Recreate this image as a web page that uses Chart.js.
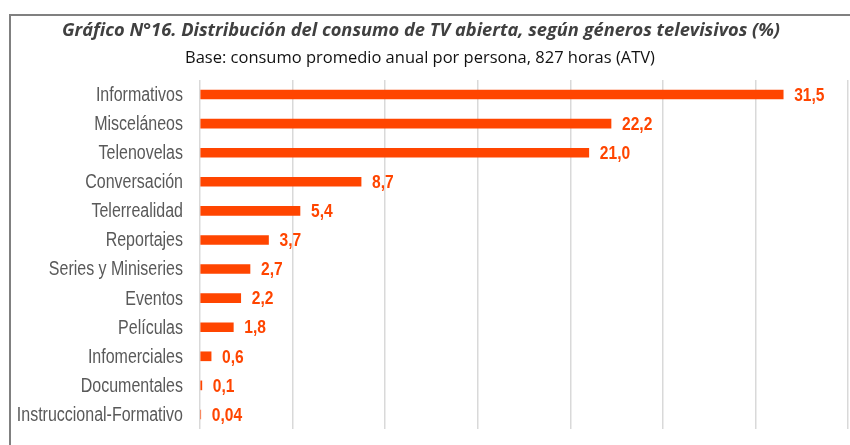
<!DOCTYPE html>
<html>
<head>
<meta charset="utf-8">
<script src="https://cdn.jsdelivr.net/npm/chart.js@4/dist/chart.umd.min.js"></script>
<style>
  html, body { margin: 0; padding: 0; background: #fff; }
  #wrap { width: 850px; height: 445px; position: relative; }
</style>
</head>
<body>
<div id="wrap"><canvas id="generosChart"></canvas></div>
<script>
// datos del gráfico
const categorias = ['Informativos', 'Misceláneos', 'Telenovelas', 'Conversación', 'Telerrealidad',
  'Reportajes', 'Series y Miniseries', 'Eventos', 'Películas', 'Infomerciales', 'Documentales',
  'Instruccional-Formativo'];
const porcentajes = [31.5, 22.2, 21.0, 8.7, 5.4, 3.7, 2.7, 2.2, 1.8, 0.6, 0.1, 0.04];
const ejeMin = 0;
const ejeMax = 35;
const ejePaso = 5;

const titulo = 'Gráfico N°16. Distribución del consumo de TV abierta, según géneros televisivos (%)';
const subtitulo = 'Base: consumo promedio anual por persona, 827 horas (ATV)';

const naranja = '#FF4500';
const fuenteEtiquetas = '"Liberation Sans", Arial, sans-serif';
const estrechez = 0.82; // simula Arial Narrow

function formatoValor(v) {
  const txt = v < 0.1 ? v.toFixed(2) : v.toFixed(1);
  return txt.replace('.', ',');
}

// texto ajustado a un ancho dado
function textoAjustado(ctx, txt, estilo, familia, ancho, cx, cy, color) {
  let size = 20;
  ctx.font = estilo + ' ' + size + 'px ' + familia;
  const w = ctx.measureText(txt).width;
  size = size * ancho / w;
  ctx.font = estilo + ' ' + size.toFixed(2) + 'px ' + familia;
  ctx.fillStyle = color;
  ctx.textAlign = 'center';
  ctx.textBaseline = 'middle';
  ctx.fillText(txt, cx, cy);
}

// texto estrecho (escala horizontal)
function textoEstrecho(ctx, txt, x, y, align) {
  ctx.save();
  ctx.scale(estrechez, 1);
  ctx.textAlign = align;
  ctx.textBaseline = 'middle';
  ctx.fillText(txt, x / estrechez, y);
  ctx.restore();
}

const marcoYTitulos = {
  id: 'marcoYTitulos',
  beforeDraw(chart) {
    const ctx = chart.ctx;
    ctx.save();
    ctx.strokeStyle = '#808080';
    ctx.lineWidth = 2;
    ctx.strokeRect(10, 15, 880, 470);
    textoAjustado(ctx, titulo, 'italic bold', '"Open Sans", "Noto Sans", sans-serif', 718, 421, 31, '#404040');
    textoAjustado(ctx, subtitulo, 'normal', '"Open Sans", "Noto Sans", sans-serif', 470, 420, 58, '#111111');
    ctx.restore();
  }
};

const etiquetas = {
  id: 'etiquetas',
  afterDatasetsDraw(chart) {
    const ctx = chart.ctx;
    const meta = chart.getDatasetMeta(0);
    const yScale = chart.scales.y;
    ctx.save();
    // categorías
    ctx.font = '19.5px ' + fuenteEtiquetas;
    ctx.fillStyle = '#595959';
    categorias.forEach((c, i) => {
      textoEstrecho(ctx, c, yScale.right - 17, yScale.getPixelForTick(i) + 1, 'right');
    });
    // valores
    ctx.font = 'bold 19px ' + fuenteEtiquetas;
    ctx.fillStyle = naranja;
    meta.data.forEach((bar, i) => {
      textoEstrecho(ctx, formatoValor(porcentajes[i]), bar.x + 11, bar.y + 1, 'left');
    });
    ctx.restore();
  }
};

new Chart(document.getElementById('generosChart'), {
  type: 'bar',
  data: {
    labels: categorias,
    datasets: [{
      data: porcentajes,
      backgroundColor: naranja,
      borderWidth: 0,
      barThickness: 9
    }]
  },
  options: {
    indexAxis: 'y',
    responsive: true,
    maintainAspectRatio: false,
    animation: false,
    layout: { padding: { top: 80, bottom: 0, right: 2, left: 0 } },
    plugins: {
      legend: { display: false },
      title: { display: false },
      tooltip: { enabled: false }
    },
    scales: {
      x: {
        min: ejeMin,
        max: ejeMax,
        ticks: { display: false, stepSize: ejePaso },
        grid: { color: '#d9d9d9', lineWidth: 1.5, drawTicks: false },
        border: { display: false },
        afterFit(scale) { scale.height = 16; }
      },
      y: {
        grid: { display: false, drawTicks: false },
        border: { display: false },
        ticks: { display: false },
        afterFit(scale) { scale.width = 200; }
      }
    }
  },
  plugins: [marcoYTitulos, etiquetas]
});
</script>
</body>
</html>
